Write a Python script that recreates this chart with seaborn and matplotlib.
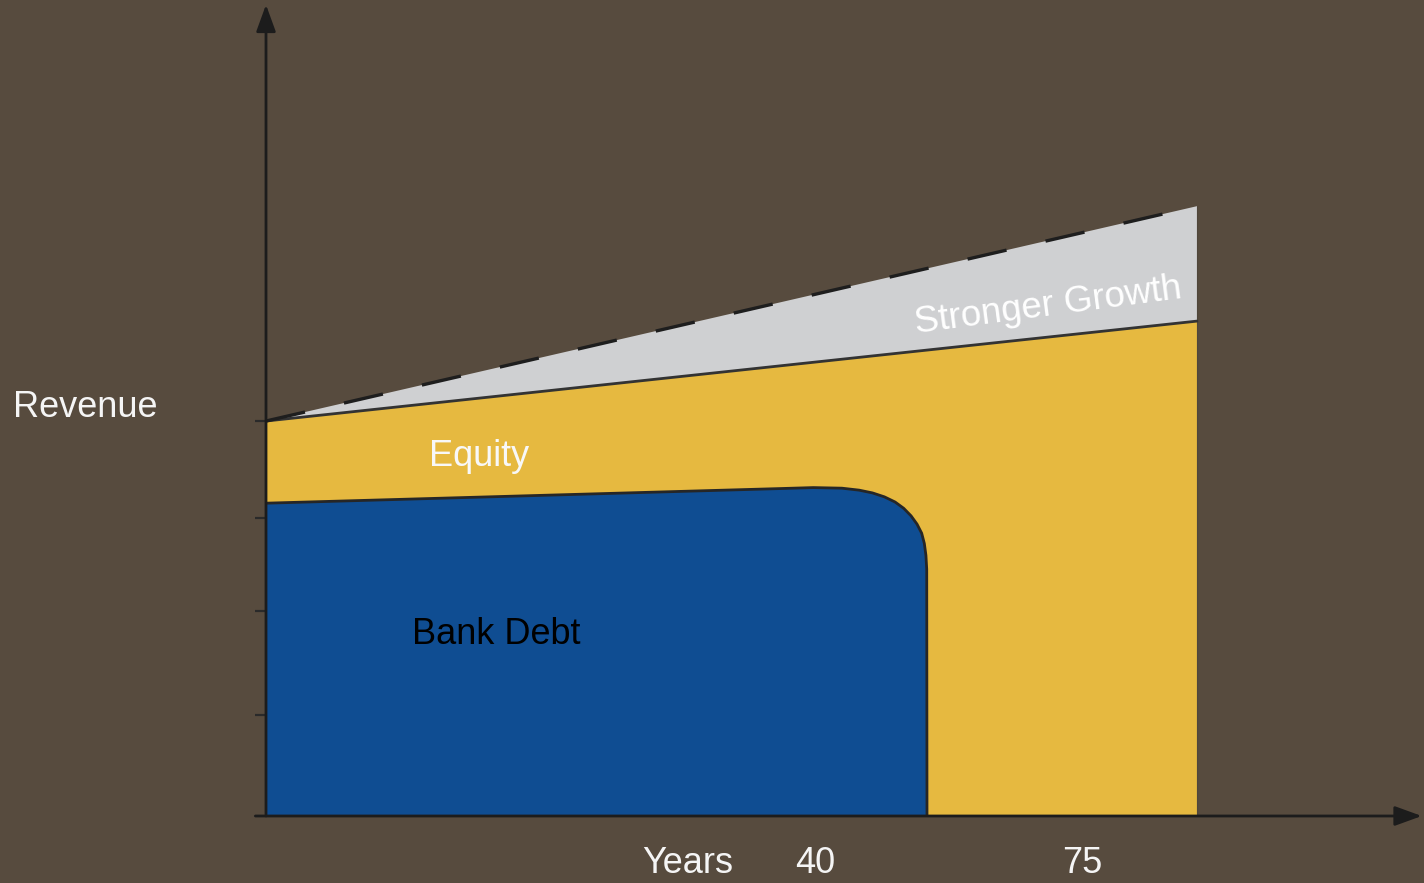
import matplotlib
matplotlib.use("Agg")
import matplotlib.pyplot as plt
import seaborn as sns

# chart values (x: years-ish units, y: revenue units)
end_x = 70.0
start_rev = 100.0
equity_end_rev = 125.3
growth_end_rev = 154.4

debt_x = [0.0, 38.65, 41.15, 43.3, 44.6, 45.6, 46.5, 47.3, 47.95, 48.5,
          48.95, 49.3, 49.5, 49.62, 49.68, 49.7]
debt_y = [79.2, 82.9, 83.15, 83.0, 82.5, 81.8, 80.8, 79.5, 77.9, 76.0,
          73.9, 71.6, 69.0, 66.0, 62.5, 0.0]

ytick_vals = [25.5, 52.0, 75.5, 100.0]
year_labels = ["40", "75"]
year_label_x = [41.3, 61.4]

BG = "#574b3e"
BLUE = "#0f4d92"
YELLOW = "#e6b940"
GRAY = "#cfd0d2"
DARK = "#262626"

sns.set_style("white")
plt.rcParams["font.family"] = ["Liberation Sans", "DejaVu Sans"]

fig = plt.figure(figsize=(14.24, 8.83), dpi=100, facecolor=BG)
ax = fig.add_axes([266 / 1424, 67 / 883, 1 - 266 / 1424, 816 / 883])
ax.set_facecolor(BG)
ax.set_xlim(0, 87.07)
ax.set_ylim(0, 206.6)
for s in ax.spines.values():
    s.set_visible(False)

# areas
ax.fill([0, end_x, end_x, 0], [start_rev, equity_end_rev, 0, 0],
        color=YELLOW, zorder=1, lw=0)
ax.fill([0, end_x, end_x], [start_rev, growth_end_rev, equity_end_rev],
        color=GRAY, zorder=1, lw=0)
ax.fill(debt_x + [0.0], debt_y + [0.0], color=BLUE, zorder=2, lw=0)

# outlines
sns.lineplot(x=debt_x, y=debt_y, sort=False, color=DARK, lw=2.0, ax=ax, zorder=3,
             solid_joinstyle="round")
sns.lineplot(x=[0, end_x], y=[start_rev, equity_end_rev], color="#333333",
             lw=2.0, ax=ax, zorder=3)
sns.lineplot(x=[end_x, end_x], y=[0, growth_end_rev], sort=False, color="#333333",
             lw=2.0, ax=ax, zorder=3)
dash = sns.lineplot(x=[0, end_x], y=[start_rev, growth_end_rev], color="#1e1e1e",
                    lw=2.4, ax=ax, zorder=3).lines[-1]
dash.set_dashes([12, 12])

# axes with arrows
arrow = dict(arrowstyle="-|>,head_length=0.55,head_width=0.2", color="#1c1c1c",
             lw=2.0, mutation_scale=30, shrinkA=0, shrinkB=0)
ax.annotate("", xy=(0, 205.4), xytext=(0, 0), xycoords="data",
            arrowprops=arrow, annotation_clip=False, zorder=5)
ax.annotate("", xy=(86.9, 0), xytext=(-0.8, 0), xycoords="data",
            arrowprops=arrow, annotation_clip=False, zorder=5)

ax.set_xticks([])
ax.set_yticks(ytick_vals)
ax.tick_params(axis="y", direction="out", length=8, width=1.6, color="#2a2a2a",
               labelleft=False, left=True)

# labels
txt = dict(fontsize=26, ha="center", va="center", clip_on=False)
ax.text(-13.6, 103.5, "Revenue", color="#f5f5f5", **txt)
ax.text(31.7, -11.9, "Years", color="#f5f5f5", **txt)
for lx, lab in zip(year_label_x, year_labels):
    ax.text(lx, -11.9, lab, color="#f5f5f5", **txt)
ax.text(16.0, 91.0, "Equity", color="#f8f8f8", **txt)
ax.text(17.3, 46.0, "Bank Debt", color="black", **txt)
ax.text(58.8, 129.0, "Stronger Growth", color="white", rotation=7.5,
        fontsize=26.5, ha="center", va="center")

fig.savefig("out.png", dpi=100, facecolor=BG)
